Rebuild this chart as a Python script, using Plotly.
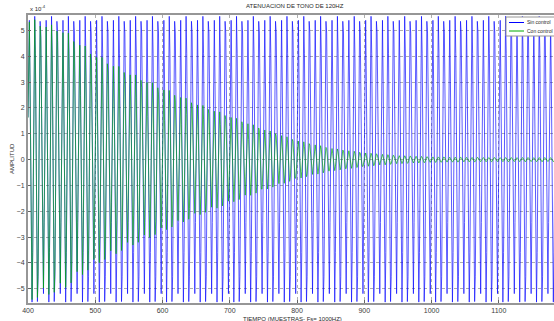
import numpy as np
import plotly.graph_objects as go

# Signal parameters
FS = 1000.0          # sample rate (Hz)
F_TONE = 120.0       # tone frequency (Hz)
N_START, N_END = 400, 1190   # sample range shown

# Amplitudes in units of 1e-4 (axis shows "x 10^-4")
AMP_SIN_CONTROL = 5.55
# Envelope of "Con control" (sample index, amplitude x1e-4)
env_samples = [400, 450, 500, 550, 600, 650, 700, 750, 800, 850, 900, 950, 1000, 1050, 1100, 1190]
env_values  = [5.5, 5.1, 4.1, 3.4, 2.8, 2.2, 1.7, 1.2, 0.75, 0.45, 0.27, 0.16, 0.11, 0.09, 0.08, 0.08]

series_names = ["Sin control", "Con control"]
series_colors = ["rgb(0,0,255)", "rgb(0,170,0)"]

x_ticks = [400, 500, 600, 700, 800, 900, 1000, 1100]
y_ticks = [-5, -4, -3, -2, -1, 0, 1, 2, 3, 4, 5]

n = np.arange(N_START, N_END + 1)
phase = 2 * np.pi * F_TONE * n / FS
sin_control = AMP_SIN_CONTROL * np.sin(phase + 0.3)
con_control = np.interp(n, env_samples, env_values) * np.sin(phase + 0.3)

W, H = 554, 321
ml, mr, mt, mb = 28, 0, 15, 18
FONT = "Arial, Liberation Sans"
TXT = "rgb(40,40,40)"


def px(xp):
    return (xp - ml) / (W - ml - mr)


def py(yp):
    return 1 - (yp - mt) / (H - mt - mb)


fig = go.Figure()
for yv, name, col in zip([sin_control, con_control], series_names, series_colors):
    fig.add_trace(go.Scatter(x=n, y=yv, mode="lines", name=name,
                             line=dict(color=col, width=0.65), showlegend=False))

axis_common = dict(showgrid=True, gridcolor="rgba(120,120,120,0.6)", griddash="dot", gridwidth=1,
                   zeroline=False, showline=True, linecolor="rgb(150,150,150)", linewidth=2,
                   ticks="inside", ticklen=3, tickcolor="rgb(100,100,100)",
                   tickfont=dict(size=7, color="rgb(60,60,60)", family=FONT),
                   mirror=True)

# compact legend box (top-right, as in the reference)
shapes = [dict(type="rect", xref="paper", yref="paper", x0=px(506), x1=px(560), y0=py(36), y1=py(17),
               line=dict(color="rgb(150,150,150)", width=1), fillcolor="white", layer="above")]
annotations = []
for i, (name, col) in enumerate(zip(series_names, series_colors)):
    yrow = 22.5 + 8.5 * i
    shapes.append(dict(type="line", xref="paper", yref="paper", x0=px(509), x1=px(524),
                       y0=py(yrow), y1=py(yrow), line=dict(color=col, width=1), layer="above"))
    annotations.append(dict(text=name, xref="paper", yref="paper", x=px(525), y=py(yrow),
                            xanchor="left", yanchor="middle", showarrow=False,
                            font=dict(size=5, family=FONT, color=TXT)))

annotations += [
    dict(text="ATENUACION DE TONO DE 120HZ", xref="paper", yref="paper",
         x=px(295), y=1, yshift=4, xanchor="center", yanchor="bottom",
         showarrow=False, font=dict(size=6, family=FONT, color=TXT)),
    dict(text="TIEMPO (MUESTRAS- Fs= 1000HZ)", xref="paper", yref="paper",
         x=px(292), y=0, yshift=-11, xanchor="center", yanchor="top",
         showarrow=False, font=dict(size=6, family=FONT, color=TXT)),
    dict(text="AMPLITUD", xref="paper", yref="paper", textangle=-90,
         x=0, xshift=-16, y=0.5, xanchor="center", yanchor="middle",
         showarrow=False, font=dict(size=6, family=FONT, color=TXT)),
    dict(text="x 10<sup>-4</sup>", xref="paper", yref="paper",
         x=0, y=1, yshift=1, xanchor="left", yanchor="bottom",
         showarrow=False, font=dict(size=6, family=FONT, color=TXT)),
]

fig.update_layout(
    width=W, height=H,
    margin=dict(l=ml, r=mr, t=mt, b=mb, autoexpand=False),
    paper_bgcolor="white", plot_bgcolor="white",
    showlegend=False,
    xaxis=dict(range=[N_START, 1182], tickvals=x_ticks, **axis_common),
    yaxis=dict(range=[-5.55, 5.6], tickvals=y_ticks, **axis_common),
    shapes=shapes,
    annotations=annotations,
)

fig.write_html("out.html")
